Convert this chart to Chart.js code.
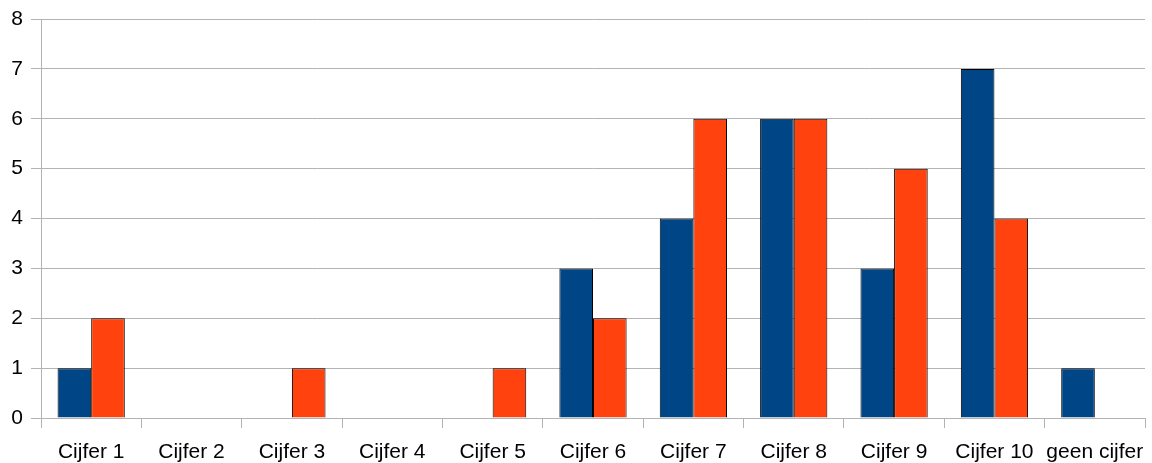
<!DOCTYPE html>
<html>
<head>
<meta charset="utf-8">
<script src="https://cdn.jsdelivr.net/npm/chart.js@4/dist/chart.umd.min.js"></script>
<style>
  html, body { margin: 0; padding: 0; background: #fff; }
  #wrap { width: 1152px; height: 463px; }
</style>
</head>
<body>
<div id="wrap"><canvas id="graph"></canvas></div>
<script>
const categories = ['Cijfer 1', 'Cijfer 2', 'Cijfer 3', 'Cijfer 4', 'Cijfer 5', 'Cijfer 6',
  'Cijfer 7', 'Cijfer 8', 'Cijfer 9', 'Cijfer 10', 'geen cijfer'];
const seriesA = [1, 0, 0, 0, 0, 3, 4, 6, 3, 7, 1];
const seriesB = [2, 0, 1, 0, 1, 2, 6, 6, 5, 4, 0];
const yTicks = [0, 1, 2, 3, 4, 5, 6, 7, 8];

const gridGray = '#b3b3b3';
const font = { family: 'Liberation Sans', size: 21 };

// no outline on empty bars
const edge = ctx => (ctx.raw ? 1 : 0);

const ctx = document.getElementById('graph').getContext('2d');
new Chart(ctx, {
  type: 'bar',
  data: {
    labels: categories,
    datasets: [
      { label: 'Reeks 1', data: seriesA, backgroundColor: '#004586', borderColor: '#000', borderWidth: edge, borderSkipped: 'start' },
      { label: 'Reeks 2', data: seriesB, backgroundColor: '#ff420e', borderColor: '#000', borderWidth: edge, borderSkipped: 'start' },
    ],
  },
  options: {
    responsive: true,
    maintainAspectRatio: false,
    animation: false,
    layout: { padding: { left: 0, right: 7, top: 19, bottom: 0 } },
    plugins: { legend: { display: false }, tooltip: { enabled: false } },
    datasets: { bar: { barPercentage: 1, categoryPercentage: 0.67 } },
    scales: {
      x: {
        afterFit: axis => { axis.height = 45; axis.paddingLeft = 0; axis.paddingRight = 0; },
        grid: {
          offset: true,
          color: c => (c.index === categories.length ? gridGray : 'transparent'),
          tickColor: gridGray,
          tickLength: 10,
        },
        border: { color: gridGray },
        ticks: { color: '#000', font: { ...font, lineHeight: 1 }, padding: 14, maxRotation: 0, autoSkip: false },
      },
      y: {
        min: yTicks[0],
        max: yTicks[yTicks.length - 1],
        afterBuildTicks: axis => { axis.ticks = yTicks.map(v => ({ value: v })); },
        afterFit: axis => { axis.width = 41; axis.paddingTop = 0; axis.paddingBottom = 0; },
        grid: { color: gridGray, tickColor: gridGray, tickLength: 10 },
        border: { color: gridGray },
        ticks: { color: '#000', font, padding: 8 },
      },
    },
  },
});
</script>
</body>
</html>
